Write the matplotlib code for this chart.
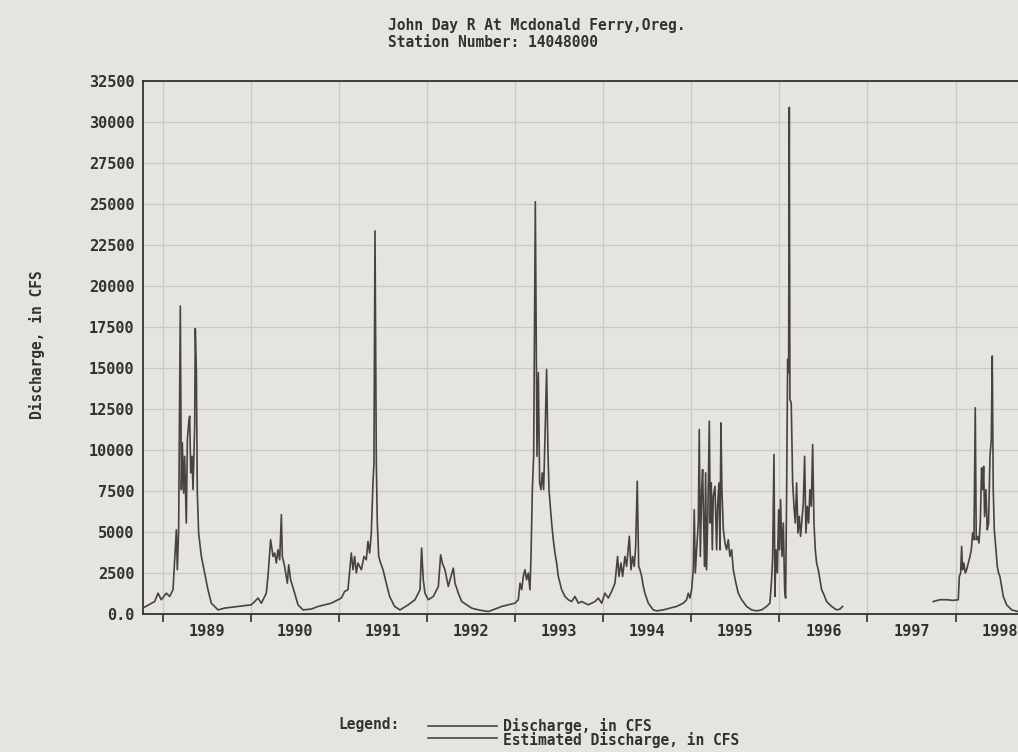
import matplotlib
matplotlib.use("Agg")
import matplotlib.pyplot as plt
from matplotlib.lines import Line2D
from matplotlib.font_manager import FontProperties
from matplotlib.ticker import FixedLocator, NullFormatter, FixedFormatter

# ---------------- text ----------------
title_line1 = "John Day R At Mcdonald Ferry,Oreg."
title_line2 = "Station Number: 14048000"
y_label = "Discharge, in CFS"
legend_title = "Legend:"
legend_labels = ["Discharge, in CFS", "Estimated Discharge, in CFS"]

year_ticks = list(range(1989, 1999))
year_labels = [str(y) for y in year_ticks]
y_ticks = list(range(0, 32501, 2500))
y_tick_labels = ["0.0"] + [str(v) for v in y_ticks[1:]]

# ---------------- data (decimal year, daily discharge in cfs) ----------------
# Water years 1989-1996 (continuous record)
t_wy89_96 = [
    1988.775, 1988.909, 1988.947, 1988.984, 1989.041, 1989.079, 1989.117, 1989.155,
    1989.166, 1989.181, 1989.200, 1989.212, 1989.223, 1989.238, 1989.249, 1989.268,
    1989.280, 1989.295, 1989.306, 1989.318, 1989.333, 1989.344, 1989.363, 1989.370,
    1989.382, 1989.393, 1989.408, 1989.439, 1989.476, 1989.514, 1989.552, 1989.628,
    1989.703, 1989.855, 1990.006, 1990.044, 1990.082, 1990.120, 1990.176, 1990.195,
    1990.225, 1990.252, 1990.271, 1990.290, 1990.309, 1990.328, 1990.347, 1990.358,
    1990.384, 1990.415, 1990.430, 1990.452, 1990.498, 1990.536, 1990.593, 1990.687,
    1990.763, 1990.838, 1990.914, 1990.990, 1991.028, 1991.065, 1991.103, 1991.141,
    1991.160, 1991.179, 1991.198, 1991.217, 1991.255, 1991.285, 1991.311, 1991.330,
    1991.349, 1991.368, 1991.387, 1991.398, 1991.410, 1991.425, 1991.436, 1991.452,
    1991.474, 1991.501, 1991.538, 1991.576, 1991.633, 1991.694, 1991.788, 1991.864,
    1991.921, 1991.939, 1991.958, 1991.977, 1992.015, 1992.072, 1992.129, 1992.155,
    1992.174, 1992.204, 1992.242, 1992.272, 1992.299, 1992.318, 1992.356, 1992.394,
    1992.450, 1992.507, 1992.583, 1992.696, 1992.772, 1992.848, 1992.923, 1992.999,
    1993.037, 1993.056, 1993.075, 1993.093, 1993.112, 1993.131, 1993.150, 1993.169,
    1993.181, 1993.196, 1993.211, 1993.230, 1993.249, 1993.264, 1993.279, 1993.294,
    1993.309, 1993.324, 1993.339, 1993.358, 1993.373, 1993.385, 1993.400, 1993.415,
    1993.434, 1993.453, 1993.472, 1993.491, 1993.529, 1993.566, 1993.604, 1993.642,
    1993.680, 1993.718, 1993.756, 1993.793, 1993.831, 1993.907, 1993.945, 1993.983,
    1994.020, 1994.058, 1994.096, 1994.134, 1994.164, 1994.179, 1994.202, 1994.221,
    1994.247, 1994.266, 1994.297, 1994.316, 1994.334, 1994.353, 1994.369, 1994.387,
    1994.403, 1994.418, 1994.437, 1994.456, 1994.474, 1994.512, 1994.569, 1994.607,
    1994.683, 1994.758, 1994.834, 1994.910, 1994.947, 1994.966, 1994.985, 1995.004,
    1995.023, 1995.034, 1995.046, 1995.061, 1995.080, 1995.091, 1995.103, 1995.118,
    1995.129, 1995.140, 1995.152, 1995.163, 1995.174, 1995.190, 1995.205, 1995.216,
    1995.227, 1995.239, 1995.250, 1995.269, 1995.288, 1995.299, 1995.314, 1995.326,
    1995.337, 1995.348, 1995.364, 1995.383, 1995.401, 1995.420, 1995.439, 1995.458,
    1995.477, 1995.507, 1995.534, 1995.572, 1995.628, 1995.685, 1995.742, 1995.799,
    1995.855, 1995.893, 1995.912, 1995.924, 1995.939, 1995.950, 1995.961, 1995.977,
    1995.992, 1996.003, 1996.014, 1996.030, 1996.045, 1996.060, 1996.071, 1996.083,
    1996.094, 1996.105, 1996.113, 1996.120, 1996.135, 1996.151, 1996.166, 1996.181,
    1996.196, 1996.211, 1996.226, 1996.241, 1996.257, 1996.272, 1996.287, 1996.302,
    1996.317, 1996.332, 1996.347, 1996.363, 1996.378, 1996.393, 1996.408, 1996.423,
    1996.442, 1996.461, 1996.480, 1996.499, 1996.537, 1996.593, 1996.650, 1996.688,
    1996.718,
]
q_wy89_96 = [
    330, 730, 1240, 840, 1240, 1040, 1450, 5110,
    2670, 5110, 18760, 7560, 10410, 7350, 9590, 5520,
    10610, 11630, 12040, 8580, 9590, 7560, 11430, 17380,
    14890, 7350, 4910, 3480, 2470, 1450, 630, 220,
    330, 430, 530, 730, 940, 630, 1240, 2260,
    4500, 3480, 3690, 3080, 3890, 3280, 6030, 3480,
    2870, 1850, 2970, 2060, 1240, 530, 220, 270,
    430, 530, 630, 840, 940, 1340, 1450, 3690,
    2670, 3480, 2470, 3080, 2670, 3480, 3280, 4400,
    3690, 4910, 7970, 9190, 23340, 9190, 5520, 3480,
    3080, 2670, 1850, 1040, 430, 220, 530, 840,
    1450, 3990, 2060, 1240, 840, 1040, 1650, 3580,
    3080, 2670, 1650, 2260, 2770, 1850, 1240, 730,
    530, 330, 220, 120, 270, 430, 530, 630,
    840, 1850, 1450, 2260, 2670, 2060, 2470, 1450,
    3480, 7560, 9590, 25120, 9590, 14690, 7970, 7560,
    8580, 7560, 10610, 14890, 10000, 7560, 6540, 5520,
    4500, 3690, 3080, 2260, 1450, 1040, 840, 730,
    1040, 630, 730, 630, 530, 730, 940, 630,
    1240, 940, 1340, 1850, 3480, 2260, 3080, 2260,
    3480, 2870, 4710, 2670, 3480, 2870, 4090, 8070,
    2870, 2670, 2260, 1650, 1240, 630, 220, 160,
    220, 330, 430, 630, 840, 1240, 940, 1450,
    2670, 6330, 2470, 3890, 5520, 11220, 3480, 7560,
    8780, 5720, 2870, 8580, 2670, 6540, 11730, 5520,
    7970, 3890, 7150, 7760, 3890, 6540, 7970, 3890,
    11630, 7560, 5110, 4300, 3890, 4500, 3480, 3890,
    2670, 1850, 1240, 840, 430, 220, 160, 220,
    430, 630, 2060, 3480, 9700, 1040, 3890, 2470,
    6330, 3890, 6950, 3480, 5520, 1450, 940, 7560,
    15500, 14690, 30880, 13060, 12850, 7970, 6540, 5520,
    7970, 4910, 5930, 4700, 5720, 6740, 9590, 4910,
    6540, 5520, 7560, 6540, 10310, 5520, 3890, 3080,
    2670, 2060, 1450, 1240, 730, 430, 220, 270,
    430,
]

# Water year 1998 (record resumes after the missing 1997 water year)
t_wy98 = [
    1997.747, 1997.823, 1997.899, 1997.974, 1998.031, 1998.043, 1998.058, 1998.069,
    1998.080, 1998.095, 1998.111, 1998.126, 1998.145, 1998.164, 1998.179, 1998.194,
    1998.209, 1998.224, 1998.235, 1998.251, 1998.266, 1998.281, 1998.296, 1998.307,
    1998.319, 1998.330, 1998.345, 1998.360, 1998.375, 1998.391, 1998.406, 1998.417,
    1998.428, 1998.440, 1998.459, 1998.474, 1998.489, 1998.504, 1998.523, 1998.542,
    1998.580, 1998.637, 1998.708, 1998.750,
]
q_wy98 = [
    730, 840, 840, 800, 840, 2260, 2470, 4090,
    2670, 3080, 2470, 2670, 3080, 3480, 3890, 4910,
    4500, 12550, 4500, 4700, 4300, 5520, 8880, 7560,
    8980, 5910, 7560, 5110, 5520, 9590, 10610, 15710,
    7560, 5110, 3890, 2870, 2470, 2260, 1650, 1040,
    530, 220, 120, 100,
]

# No separately distinguishable estimated values in the picture
t_estimated = []
q_estimated = []

# ---------------- styling ----------------
BG = "#e5e4df"
INK = "#34322f"
LINE = "#47433e"
GRID = "#cac9c3"
FONT = {"family": "DejaVu Sans Mono", "weight": "bold", "size": 10.5}
TICKFONT = FontProperties(family="DejaVu Sans Mono", weight="bold", size=11)

W, H = 1018, 752
fig = plt.figure(figsize=(W / 100, H / 100), dpi=100, facecolor=BG)

ax_left, ax_right, ax_top, ax_bottom = 142.7, 1021.6, 80.8, 613.5
ax = fig.add_axes([ax_left / W, 1 - ax_bottom / H,
                   (ax_right - ax_left) / W, (ax_bottom - ax_top) / H])
ax.set_facecolor(BG)

ax.plot(t_wy89_96, q_wy89_96, color=LINE, lw=1.2, zorder=3)
ax.plot(t_wy98, q_wy98, color=LINE, lw=1.2, zorder=3)
ax.plot(t_estimated, q_estimated, color=LINE, lw=1.2, zorder=3)

ax.set_xlim(1988.773, 1998.75)
ax.set_ylim(0, 32500)

# y axis
ax.yaxis.set_major_locator(FixedLocator(y_ticks))
ax.yaxis.set_major_formatter(FixedFormatter(y_tick_labels))
ax.tick_params(axis="y", length=0, pad=6.0, colors=INK)

# x axis: tick marks at year boundaries, labels centred in each year
ax.xaxis.set_major_locator(FixedLocator(year_ticks))
ax.xaxis.set_major_formatter(NullFormatter())
ax.xaxis.set_minor_locator(FixedLocator([y + 0.5 for y in year_ticks]))
ax.xaxis.set_minor_formatter(FixedFormatter(year_labels))
ax.tick_params(axis="x", which="major", direction="out", length=6,
               width=1.2, color=INK)
ax.tick_params(axis="x", which="minor", length=0, pad=7.5, colors=INK)

for lbl in ax.get_yticklabels() + ax.get_xticklabels(minor=True):
    lbl.set_fontproperties(TICKFONT)

ax.grid(True, which="major", axis="both", color=GRID, lw=0.9, zorder=0)
ax.set_axisbelow(True)

for side in ["left", "bottom", "top", "right"]:
    ax.spines[side].set_color(INK)
    ax.spines[side].set_linewidth(1.3)

# titles and labels
fig.text(388 / W, 1 - 25.5 / H, title_line1, ha="left", va="center", color=INK, **FONT)
fig.text(388 / W, 1 - 42.5 / H, title_line2, ha="left", va="center", color=INK, **FONT)
fig.text(37 / W, 1 - 345 / H, y_label, rotation=90, ha="center", va="center",
         color=INK, **FONT)

# legend block
fig.text(400 / W, 1 - 724 / H, legend_title, ha="right", va="center", color=INK, **FONT)
for i in range(len(legend_labels)):
    yy = 1 - (725.5 + 12.5 * i) / H
    fig.add_artist(Line2D([428 / W, 497 / W], [yy, yy],
                          transform=fig.transFigure, color=LINE, lw=1.2))
fig.text(503 / W, 1 - 718 / H, "\n".join(legend_labels), ha="left", va="top",
         color=INK, linespacing=0.88, **FONT)

fig.savefig("out.png", dpi=100, facecolor=BG)
